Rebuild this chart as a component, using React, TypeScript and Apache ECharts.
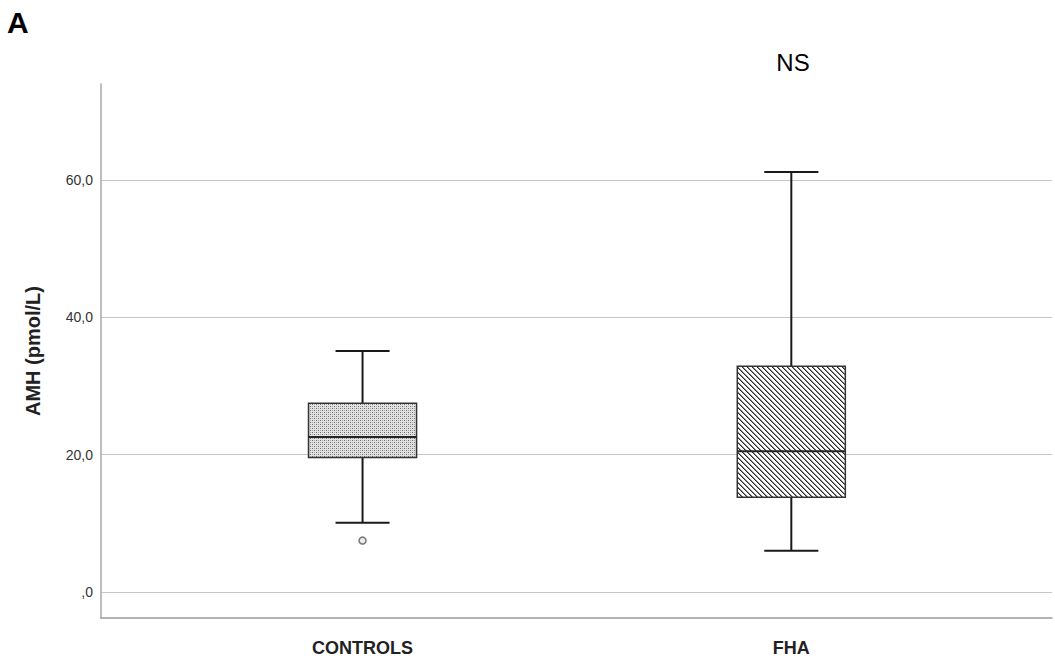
import React, { useEffect, useRef } from "react";
import * as echarts from "echarts";

const categories = ["CONTROLS", "FHA"];
// [low whisker, Q1, median, Q3, high whisker]
const boxValues = [
  [10.1, 19.6, 22.6, 27.5, 35.1],
  [6.0, 13.8, 20.5, 32.9, 61.2],
];
const outliers = [[0, 7.5]];
const yTicks = [0, 20, 40, 60];

function makeDots(): HTMLCanvasElement {
  const c = document.createElement("canvas");
  c.width = 4;
  c.height = 4;
  const ctx = c.getContext("2d")!;
  ctx.fillStyle = "#e2e2e2";
  ctx.fillRect(0, 0, 4, 4);
  ctx.fillStyle = "#6e6e6e";
  ctx.fillRect(0, 0, 1, 1);
  ctx.fillRect(2, 2, 1, 1);
  ctx.fillStyle = "#a8a8a8";
  ctx.fillRect(2, 0, 1, 1);
  ctx.fillRect(0, 2, 1, 1);
  return c;
}

function makeHatch(): HTMLCanvasElement {
  const n = 5;
  const c = document.createElement("canvas");
  c.width = n;
  c.height = n;
  const ctx = c.getContext("2d")!;
  ctx.fillStyle = "#ffffff";
  ctx.fillRect(0, 0, n, n);
  for (let i = 0; i < n; i++) {
    ctx.fillStyle = "#2a2a2a";
    ctx.fillRect(i, i, 1, 1);
    ctx.fillStyle = "#8a8a8a";
    ctx.fillRect((i + 1) % n, i, 1, 1);
  }
  return c;
}

export default function App() {
  const ref = useRef<HTMLDivElement>(null);
  useEffect(() => {
    if (!ref.current) return;
    const chart = echarts.init(ref.current, undefined, { renderer: "svg" });
    const dots = makeDots();
    const hatch = makeHatch();
    const patterns = [
      { image: dots, repeat: "repeat", imageWidth: 4, imageHeight: 4 },
      { image: hatch, repeat: "repeat", imageWidth: 5, imageHeight: 5 },
    ];
    const boxWidthUnits = 0.252;
    const data = boxValues.map((b, i) => [i, ...b]);
    chart.setOption({
      animation: false,
      backgroundColor: "#ffffff",
      textStyle: { fontFamily: "Liberation Sans, Arial, sans-serif" },
      title: {
        text: "A",
        left: 2,
        top: 2,
        textStyle: { fontSize: 30, fontWeight: "bold", color: "#000" },
      },
      graphic: [
        {
          type: "text",
          x: 793,
          y: 62,
          style: {
            text: "NS",
            fontSize: 24,
            fill: "#000",
            align: "center",
            verticalAlign: "middle",
            fontFamily: "Liberation Sans, Arial, sans-serif",
          },
        },
      ],
      grid: { left: 101, right: 3, top: 84, bottom: 43, containLabel: false },
      xAxis: {
        type: "value",
        min: -0.61,
        max: 1.608,
        splitLine: { show: false },
        axisTick: { show: false },
        axisLine: {
          show: true,
          onZero: false,
          lineStyle: { color: "#9a9a9a", width: 1.5 },
        },
        axisLabel: {
          customValues: [0, 1],
          formatter: (v: number) => categories[Math.round(v)] ?? "",
          fontSize: 18,
          fontWeight: "bold",
          color: "#222",
          margin: 21,
        },
      },
      yAxis: {
        type: "value",
        min: -3.78,
        max: 74,
        name: "AMH (pmol/L)",
        nameLocation: "middle",
        nameRotate: 90,
        nameGap: 58,
        nameTextStyle: { fontSize: 20, fontWeight: "bold", color: "#222" },
        axisLine: {
          show: true,
          onZero: false,
          lineStyle: { color: "#aaaaaa", width: 1.5 },
        },
        axisTick: { show: false, customValues: yTicks },
        axisLabel: {
          customValues: yTicks,
          formatter: (v: number) =>
            v === 0 ? ",0" : v.toFixed(1).replace(".", ","),
          fontSize: 14,
          color: "#333",
          margin: 8,
        },
        splitLine: { show: true, lineStyle: { color: "#c6c6c6", width: 1 } },
      },
      series: [
        {
          type: "custom",
          data,
          z: 5,
          renderItem: (params: any, api: any) => {
            const idx = api.value(0);
            const low = api.coord([idx, api.value(1)]);
            const q1 = api.coord([idx, api.value(2)]);
            const med = api.coord([idx, api.value(3)]);
            const q3 = api.coord([idx, api.value(4)]);
            const high = api.coord([idx, api.value(5)]);
            const w = api.size([boxWidthUnits, 0])[0];
            const cx = low[0];
            const lineStyle = { stroke: "#1a1a1a", lineWidth: 2 };
            return {
              type: "group",
              children: [
                {
                  type: "line",
                  shape: { x1: cx, y1: high[1], x2: cx, y2: q3[1] },
                  style: lineStyle,
                },
                {
                  type: "line",
                  shape: { x1: cx, y1: q1[1], x2: cx, y2: low[1] },
                  style: lineStyle,
                },
                {
                  type: "line",
                  shape: { x1: cx - w / 4, y1: high[1], x2: cx + w / 4, y2: high[1] },
                  style: lineStyle,
                },
                {
                  type: "line",
                  shape: { x1: cx - w / 4, y1: low[1], x2: cx + w / 4, y2: low[1] },
                  style: lineStyle,
                },
                {
                  type: "rect",
                  shape: { x: cx - w / 2, y: q3[1], width: w, height: q1[1] - q3[1] },
                  style: { fill: patterns[idx], stroke: "#333", lineWidth: 1.5 },
                },
                {
                  type: "line",
                  shape: { x1: cx - w / 2, y1: med[1], x2: cx + w / 2, y2: med[1] },
                  style: { stroke: "#222", lineWidth: 2 },
                },
              ],
            };
          },
        },
        {
          type: "scatter",
          data: outliers,
          symbol: "circle",
          symbolSize: 7,
          z: 6,
          itemStyle: { color: "#e6e6e6", borderColor: "#555", borderWidth: 1.5 },
        },
      ],
    });
    return () => chart.dispose();
  }, []);
  return (
    <div
      ref={ref}
      style={{ position: "fixed", left: 0, top: 0, width: 1055, height: 661 }}
    />
  );
}
